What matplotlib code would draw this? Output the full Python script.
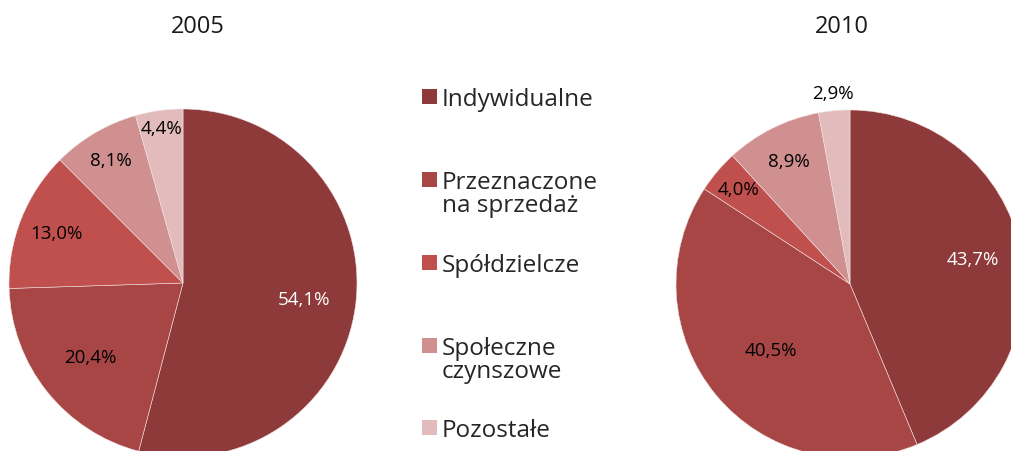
import matplotlib
matplotlib.use("Agg")
import matplotlib.pyplot as plt
from matplotlib.patches import Rectangle
import numpy as np

categories = ["Indywidualne", "Przeznaczone\nna sprzedaż", "Spółdzielcze",
              "Społeczne\nczynszowe", "Pozostałe"]
values_2005 = [54.1, 20.4, 13.0, 8.1, 4.4]
values_2010 = [43.7, 40.5, 4.0, 8.9, 2.9]
years = ["2005", "2010"]

colors = ["#8E3A3A", "#A84646", "#C0504D", "#D09090", "#E2BCBC"]
# radial placement of each percentage label (fraction of radius)
label_dist_2005 = [0.70, 0.68, 0.78, 0.82, 0.90]
label_dist_2010 = [0.72, 0.59, 0.84, 0.79, 1.10]

plt.rcParams["font.family"] = ["Open Sans", "DejaVu Sans"]

W, H = 1012, 452
fig = plt.figure(figsize=(W / 100, H / 100), dpi=100)
R = 174  # pie radius in px


def draw_pie(cx, cy, values, dists, title, title_x):
    ax = fig.add_axes([(cx - R) / W, (H - cy - R) / H, 2 * R / W, 2 * R / H])
    wedges, _ = ax.pie(values, colors=colors, startangle=90, counterclock=False,
                       radius=1, wedgeprops=dict(edgecolor="#f0e0e0", linewidth=0.4))
    for i, (w, v, d) in enumerate(zip(wedges, values, dists)):
        ang = np.deg2rad((w.theta1 + w.theta2) / 2)
        txt = f"{v:.1f}%".replace(".", ",")
        col = "white" if i == 0 else "black"
        ax.text(d * np.cos(ang), d * np.sin(ang), txt, ha="center", va="center",
                fontsize=13.5, color=col, clip_on=False)
    ax.set_xlim(-1, 1)
    ax.set_ylim(-1, 1)
    ax.set_aspect("equal")
    ax.axis("off")
    fig.text(title_x / W, 1 - 27 / H, title, ha="center", va="center",
             fontsize=17, color="#1a1a1a")


draw_pie(183, 284, values_2005, label_dist_2005, years[0], 198)
draw_pie(850, 285, values_2010, label_dist_2010, years[1], 842)

# legend, squares aligned with the first text line
legend_y = [97, 180, 263, 346, 428]
sq = 15
for lab, col, y in zip(categories, colors, legend_y):
    fig.patches.append(Rectangle((422 / W, 1 - (y + sq / 2) / H), sq / W, sq / H,
                                 transform=fig.transFigure, facecolor=col,
                                 edgecolor="none"))
    fig.text(442 / W, 1 - (y - 9) / H, lab, ha="left", va="top",
             fontsize=17.5, color="#262626", linespacing=0.95)

fig.savefig("out.png", dpi=100)
